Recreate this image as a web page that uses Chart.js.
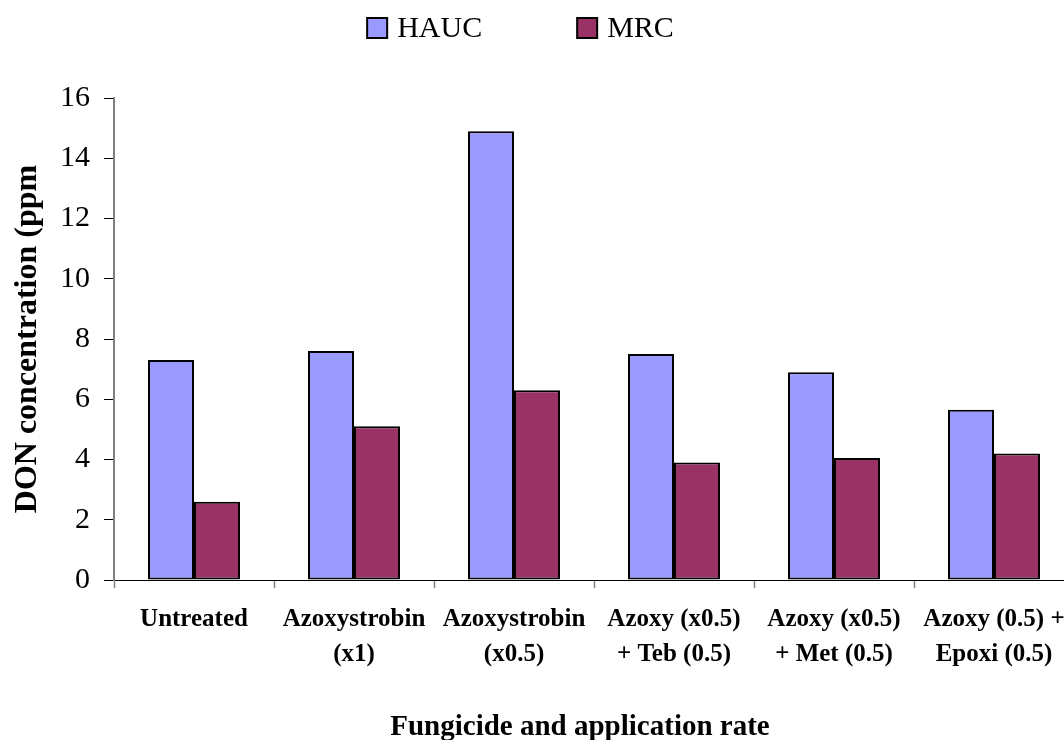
<!DOCTYPE html>
<html>
<head>
<meta charset="utf-8">
<title>DON concentration by fungicide treatment</title>
<script src="https://cdn.jsdelivr.net/npm/chart.js@4.4.1/dist/chart.umd.min.js"></script>
<style>
  html, body { margin: 0; padding: 0; background: #ffffff; overflow: hidden; }
  #wrap { position: relative; width: 1080px; height: 740px; }
</style>
</head>
<body>
<div id="wrap"><canvas id="chart"></canvas></div>
<script>
// Treatments (x-axis categories), one label line per array entry
const categories = [
  ['Untreated'],
  ['Azoxystrobin', '(x1)'],
  ['Azoxystrobin', '(x0.5)'],
  ['Azoxy (x0.5)', '+ Teb (0.5)'],
  ['Azoxy (x0.5)', '+ Met (0.5)'],
  ['Azoxy (0.5) +', 'Epoxi (0.5)']
];

// DON concentration (ppm) per treatment
const haucValues = [7.3, 7.6, 14.9, 7.5, 6.9, 5.65];
const mrcValues = [2.6, 5.1, 6.3, 3.9, 4.05, 4.2];

const seriesNames = ['HAUC', 'MRC'];
const seriesColors = ['#9999FF', '#993366'];

// Value axis
const yMin = 0;
const yMax = 16;
const yStep = 2;

const yTitle = 'DON concentration (ppm';
const xTitle = 'Fungicide and application rate';

const SERIF = '"Liberation Serif", "Times New Roman", Times, serif';

// Legend drawn across the top: square swatch followed by the series name
const topLegend = {
  id: 'topLegend',
  afterDraw(chart) {
    const ctx = chart.ctx;
    ctx.save();
    ctx.font = '30px ' + SERIF;
    ctx.textBaseline = 'middle';
    ctx.textAlign = 'left';
    const box = 20, gap = 10, spacing = 95, centerX = 520.5, midY = 28;
    const items = chart.data.datasets.map(ds => ({
      label: ds.label, color: ds.backgroundColor,
      w: box + gap + ctx.measureText(ds.label).width
    }));
    const total = items.reduce((s, it) => s + it.w, 0) + spacing * (items.length - 1);
    let x = centerX - total / 2;
    items.forEach(it => {
      ctx.fillStyle = it.color;
      ctx.fillRect(x, midY - box / 2, box, box);
      ctx.lineWidth = 2;
      ctx.strokeStyle = '#000000';
      ctx.strokeRect(x, midY - box / 2, box, box);
      ctx.fillStyle = '#000000';
      ctx.fillText(it.label, x + box + gap, midY + 1);
      x += it.w + spacing;
    });
    ctx.restore();
  }
};

// Category-axis title below the tick labels
const bottomTitle = {
  id: 'bottomTitle',
  afterDraw(chart) {
    const ctx = chart.ctx;
    ctx.save();
    ctx.font = 'bold 29px ' + SERIF;
    ctx.fillStyle = '#000000';
    ctx.textAlign = 'center';
    ctx.textBaseline = 'alphabetic';
    ctx.fillText(xTitle, 580, 735);
    ctx.restore();
  }
};

new Chart(document.getElementById('chart'), {
  type: 'bar',
  data: {
    labels: categories,
    datasets: [
      {
        label: seriesNames[0],
        data: haucValues,
        backgroundColor: seriesColors[0],
        borderColor: '#000000',
        borderWidth: 2,
        borderSkipped: false
      },
      {
        label: seriesNames[1],
        data: mrcValues,
        backgroundColor: seriesColors[1],
        borderColor: '#000000',
        borderWidth: 2,
        borderSkipped: false
      }
    ]
  },
  options: {
    responsive: true,
    maintainAspectRatio: false,
    animation: false,
    devicePixelRatio: 1,
    layout: { padding: { top: 98, right: 6, left: 0, bottom: 0 } },
    datasets: {
      bar: { categoryPercentage: 0.575, barPercentage: 1.0 }
    },
    plugins: {
      legend: { display: false },
      tooltip: { enabled: false },
      title: { display: false }
    },
    scales: {
      x: {
        type: 'category',
        offset: true,
        afterFit(scale) { scale.height = 160; },
        grid: {
          display: true,
          offset: true,
          drawOnChartArea: false,
          drawTicks: true,
          tickLength: 8,
          tickColor: '#808080',
          tickWidth: 1.5
        },
        border: { display: true, color: '#000000', width: 1 },
        ticks: {
          autoSkip: false,
          maxRotation: 0,
          minRotation: 0,
          padding: 14,
          color: '#000000',
          font: { family: SERIF, size: 25, weight: 'bold', lineHeight: 1.4 }
        }
      },
      y: {
        min: yMin,
        max: yMax,
        afterFit(scale) { scale.width = 114; },
        grid: {
          display: true,
          drawOnChartArea: false,
          drawTicks: true,
          tickLength: 10,
          tickColor: '#000000',
          tickWidth: 1
        },
        border: { display: true, color: '#808080', width: 2 },
        ticks: {
          stepSize: yStep,
          padding: 14,
          color: '#000000',
          font: { family: SERIF, size: 30 }
        },
        title: {
          display: true,
          text: yTitle,
          color: '#000000',
          padding: { top: 9, bottom: 0 },
          font: { family: SERIF, size: 32, weight: 'bold' }
        }
      }
    }
  },
  plugins: [topLegend, bottomTitle]
});
</script>
</body>
</html>
